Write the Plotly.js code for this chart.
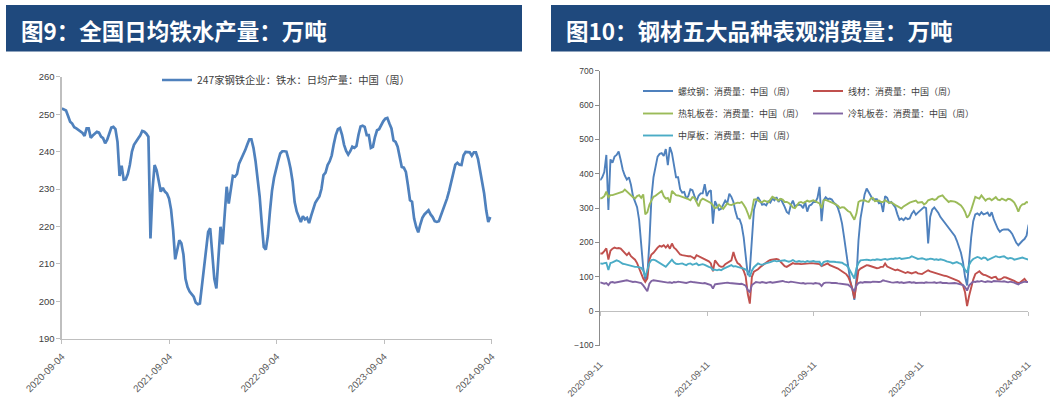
<!DOCTYPE html>
<html>
<head>
<meta charset="utf-8">
<script src="https://cdn.plot.ly/plotly-3.0.1.min.js"></script>
<style>html,body{margin:0;padding:0;background:#fff;}#chart{width:1062px;height:407px;}</style>
</head>
<body>
<div id="chart"></div>
<script>
// ---------- Data ----------
// Figure 9: 247家钢铁企业 铁水日均产量 (weekly, from 2020-09-04)
const ironStart = '2020-09-04';
const ironValues = [
251.5,251.2,251,249.5,248,247.5,246.5,246.2,245.8,245.5,
245,244.2,246.2,246.2,243.7,244.3,244.8,245.3,245.1,244,
243.6,242.2,243.2,245,246.4,246.6,246,242.6,233.5,236.2,
232.5,232.6,234,236.5,240,241.8,242.8,243.5,244.3,245.5,
245.3,244.8,244,216.8,230,236.4,235,231.9,229.3,230.3,
229.3,228.8,227.5,224.5,219,211.2,214.1,216.3,215.5,212.5,
206,203.8,202.6,202,201.2,199.6,199.2,199.4,204.3,209,
214,218.5,219.5,212,206,203.4,212,219.9,215.2,223,
230.6,226.1,229.3,233.5,233.3,234,236.8,237.9,239.1,240.4,
241.9,243.3,243.3,241,237.5,233,228,221,214.5,213.8,
217.5,224,229.5,
233,235.5,237.5,239.5,240.1,240.1,240,238,235.5,232,
226.5,224,222.5,221.2,222.7,221.9,222.3,220.9,222.8,224.5,
226.3,227.2,228,230,233.7,234.4,236.4,237.4,239,242,
244.5,246,246.3,244.5,241.8,240.2,239.2,240.1,241.3,241,
241.5,244.5,246.7,246.9,246.6,244.4,244.4,241,241.3,243.9,
245.7,246,247.1,248.1,248.8,249,247.5,246.2,243,242.6,
241.3,239,235.9,235.7,234.6,231,227,226.6,222.1,219.9,
218.4,220.5,222.3,223.2,223.7,224.3,223.2,222.5,221.4,221.2,
221.4,222.8,224.3,225.6,227.5,229.5,231.6,234.3,236.5,237,
236.5,236.4,239,239.9,239.8,239.8,238.9,239.8,239.8,238.1,
235,231.9,228.8,224.3,221.2,222.5
];
const ironName = '247家钢铁企业：铁水：日均产量：中国（周）';
const ironTicks = ['2020-09-04','2021-09-04','2022-09-04','2023-09-04','2024-09-04'];

// Figure 10: 钢材五大品种表观消费量 (weekly, from 2020-09-11)
const consStart = '2020-09-11';
const rebar = [
381,390,405,455,295,442,432,450,455,465,
440,412,395,383,390,368,335,317,303,265,
195,125,92,105,200,330,390,425,450,458,
460,452,472,425,478,460,420,390,390,355,
345,347,328,335,355,352,335,320,336,343,
343,370,335,348,352,255,320,305,295,298,
308,322,314,342,333,318,290,270,268,250,
215,155,105,120,210,295,318,332,322,310,
312,308,320,316,328,323,332,318,328,318,
304,289,284,309,322,305,309,
310,308,300,318,290,307,310,318,318,330,
362,262,323,332,326,328,325,316,311,300,
281,255,215,170,127,88,65,33,95,205,
270,312,340,357,347,333,325,326,326,314,
317,289,335,330,315,318,310,302,282,266,
270,265,272,268,270,284,292,281,287,292,
296,303,300,197,275,296,302,295,286,274,
266,258,249,242,234,226,219,205,190,170,
142,100,75,150,215,262,282,285,280,288,
282,284,287,276,288,268,252,240,231,236,
238,238,238,233,225,212,199,192,200,205,
210,220,252
];
const wireRod = [
168,168,175,183,150,176,182,185,183,184,
182,176,168,163,170,160,155,150,140,125,
108,95,85,95,150,165,170,178,185,190,
188,192,185,192,182,197,185,180,173,165,
163,163,161,160,160,157,153,163,160,158,
154,151,149,145,139,116,148,140,132,129,
130,137,141,144,148,172,152,140,136,128,
118,100,50,22,100,115,118,122,128,133,
136,142,146,149,150,151,152,150,143,136,
131,129,133,138,140,138,139,
138,137,137,139,138,139,140,139,138,139,
137,131,133,137,139,134,132,129,126,124,
120,117,112,108,100,85,65,37,75,118,
124,128,131,134,133,131,129,127,125,126,
129,129,139,130,127,124,122,119,121,119,
117,113,111,114,112,110,112,114,110,109,
108,112,116,119,116,114,111,109,108,106,
105,103,102,100,98,96,92,90,87,82,
75,55,15,45,72,92,108,112,116,110,
106,105,102,100,96,99,100,92,92,95,
99,98,96,94,90,88,85,82,84,90,
94,86,85
];
const hotRolled = [
328,330,335,348,332,338,338,340,342,343,
345,348,354,348,343,336,332,328,335,338,
330,340,282,288,310,322,333,336,340,346,
350,335,328,330,316,350,345,338,337,335,
334,332,328,326,323,332,330,318,305,322,
328,325,322,318,315,308,300,302,310,303,
298,306,314,310,309,312,314,316,315,318,
310,300,285,268,292,325,326,322,318,317,
322,320,317,325,333,330,326,322,327,325,
318,318,315,310,302,300,308,
316,318,315,318,322,319,320,323,320,318,
314,300,323,324,322,318,316,314,310,307,
300,303,302,295,291,288,275,266,284,318,
322,323,323,320,318,328,330,320,320,322,
318,318,323,318,315,317,312,309,306,303,
299,305,309,312,316,318,321,322,316,316,
318,311,315,323,326,327,324,326,333,336,
337,330,323,318,321,321,319,316,312,308,
300,289,272,280,295,312,333,330,328,337,
330,322,327,328,323,328,332,325,323,328,
325,322,327,326,322,316,305,290,305,311,
312,318,316
];
const coldRolled = [
84,82,80,82,76,84,85,83,84,86,
88,87,89,90,88,86,85,86,85,84,
82,75,65,58,80,88,90,89,87,88,
86,84,85,83,84,82,85,84,86,85,
83,84,82,84,86,85,84,82,83,82,
81,82,80,79,76,66,78,79,80,81,
80,82,83,82,81,82,81,80,79,80,
78,74,62,55,76,82,85,84,83,85,
84,82,84,85,83,84,86,85,87,88,
86,85,84,86,85,83,84,
82,81,82,80,81,82,81,80,82,81,
80,73,81,83,84,83,82,83,82,81,
80,79,80,78,77,72,66,58,75,82,
84,83,85,84,83,84,86,85,84,85,
86,90,88,86,85,84,83,84,85,83,
84,82,83,84,85,83,84,82,83,84,
83,82,84,83,82,83,84,82,83,84,
82,83,82,81,82,83,82,81,80,79,
76,70,60,75,82,86,85,87,86,88,
86,85,87,86,85,88,87,86,85,86,
87,85,84,86,85,83,80,78,82,84,
86,85,85
];
const plate = [
139,138,140,141,120,140,142,145,148,146,
141,138,137,135,134,132,130,129,129,128,
126,118,100,120,140,149,150,148,144,141,
138,133,129,136,142,150,142,138,137,139,
139,136,134,138,139,135,137,139,134,136,
137,135,131,129,127,120,121,119,121,119,
123,126,128,132,134,130,131,129,128,126,
124,121,115,100,118,128,134,139,136,135,
138,139,142,143,145,147,145,146,147,149,
148,146,144,146,149,145,144,
146,144,145,143,146,144,145,146,144,143,
144,134,143,145,146,144,145,144,143,142,
140,141,137,134,128,118,105,95,125,140,
148,149,148,150,149,148,150,149,151,150,
149,151,152,150,152,153,152,154,153,155,
152,153,155,157,156,160,158,155,152,153,
154,152,150,151,153,152,150,151,149,151,
150,148,145,144,142,139,141,143,140,138,
130,122,112,135,146,152,155,158,156,152,
156,155,149,152,155,158,160,158,157,159,
160,156,153,155,154,150,151,152,153,156,
154,152,150
];
const consNames = ['螺纹钢：消费量：中国（周）','线材：消费量：中国（周）','热轧板卷：消费量：中国（周）','冷轧板卷：消费量：中国（周）','中厚板：消费量：中国（周）'];
const consTicks = ['2020-09-11','2021-09-11','2022-09-11','2023-09-11','2024-09-11'];
const titleLeft = '图9：全国日均铁水产量：万吨';
const titleRight = '图10：钢材五大品种表观消费量：万吨';

// ---------- helpers ----------
function weekly(start, n){
  const out=[]; const t0=Date.parse(start+'T00:00:00Z');
  for(let i=0;i<n;i++){ out.push(new Date(t0+i*7*86400000).toISOString().slice(0,10)); }
  return out;
}
const W=1062, H=407;
const fx = p => p/W;
const fy = p => 1-p/H;
const CJK = '"Noto Sans CJK SC", "Noto Sans", sans-serif';
const NUM = '"Liberation Sans", Arial, sans-serif';

const ironDates = weekly(ironStart, ironValues.length);
const consDates = weekly(consStart, rebar.length);

const colors = ['#4F81BD','#C0504D','#9BBB59','#8064A2','#4BACC6'];
const consSeries = [rebar, wireRod, hotRolled, coldRolled, plate];
const consLegend = ['legend2','legend2','legend3','legend3','legend4'];

const traces = [{
  type:'scatter', mode:'lines', x: ironDates, y: ironValues, name: ironName,
  xaxis:'x', yaxis:'y', legend:'legend',
  line:{color:'#4F81BD', width:2.7}
}];
consSeries.forEach((s,i)=>{
  traces.push({
    type:'scatter', mode:'lines', x: consDates, y: s, name: consNames[i],
    xaxis: i===4 ? 'x3' : 'x2', yaxis:'y2', legend: consLegend[i],
    line:{color:colors[i], width:1.9}
  });
});

const legendBase = {orientation:'h', xanchor:'left', yanchor:'middle', bgcolor:'rgba(0,0,0,0)',
  borderwidth:0, itemwidth:30, font:{family:CJK, size:9, color:'#404040'}, entrywidth:125, entrywidthmode:'pixels'};

const layout = {
  width:W, height:H, margin:{l:0,r:0,t:0,b:0},
  paper_bgcolor:'#ffffff', plot_bgcolor:'rgba(0,0,0,0)',
  showlegend:true,
  xaxis:{type:'date', domain:[fx(61.9), fx(491.8)], range:[ironTicks[0], ironTicks[4]],
    tickmode:'array', tickvals: ironTicks, ticktext: ironTicks, tickangle:-45, ticklabelstandoff:3,
    showline:true, linecolor:'#BFBFBF', linewidth:1.5, ticks:'outside', ticklen:4, tickcolor:'#BFBFBF',
    showgrid:false, zeroline:false, tickfont:{family:NUM, size:9.8, color:'#595959'}, anchor:'y', fixedrange:true},
  yaxis:{domain:[fy(338.6), fy(76.8)], range:[190,260], tick0:190, dtick:10,
    showline:true, linecolor:'#BFBFBF', linewidth:1.5, ticks:'outside', ticklen:4, tickcolor:'#BFBFBF',
    showgrid:false, zeroline:false, tickfont:{family:NUM, size:9.5, color:'#404040'}, anchor:'x', fixedrange:true},
  xaxis2:{type:'date', domain:[fx(600.2), fx(1028)], range:[consTicks[0], consTicks[4]],
    tickmode:'array', tickvals: consTicks, ticktext: consTicks, tickangle:-45, ticklabelstandoff:11,
    showline:false, ticks:'', showgrid:false, zeroline:false,
    tickfont:{family:NUM, size:9, color:'#595959'}, anchor:'y2', fixedrange:true},
  xaxis3:{type:'date', overlaying:'x2', matches:'x2', range:[consTicks[0], consTicks[4]], anchor:'free', position: fy(311.1),
    tickmode:'array', tickvals: consTicks, showticklabels:false,
    showline:true, linecolor:'#BFBFBF', linewidth:1.2, ticks:'outside', ticklen:4, tickcolor:'#BFBFBF',
    showgrid:false, zeroline:false, fixedrange:true},
  yaxis2:{domain:[fy(345.5), fy(70.8)], range:[-100,700], tick0:-100, dtick:100,
    showline:true, linecolor:'#8C8C8C', linewidth:1, ticks:'outside', ticklen:4, tickcolor:'#8C8C8C',
    showgrid:false, zeroline:false, tickfont:{family:NUM, size:8.5, color:'#404040'}, anchor:'x2', fixedrange:true},
  legend: Object.assign({}, legendBase, {x:fx(157), y:fy(80), font:{family:CJK, size:10.3, color:'#404040'}}),
  legend2: Object.assign({}, legendBase, {x:fx(638), y:fy(91)}),
  legend3: Object.assign({}, legendBase, {x:fx(638), y:fy(113.5)}),
  legend4: Object.assign({}, legendBase, {x:fx(638), y:fy(135.5)}),
  shapes:[
    {type:'rect', xref:'paper', yref:'paper', x0:fx(6), x1:fx(522), y0:fy(51.5), y1:fy(5), fillcolor:'#1F497D', line:{width:0}, layer:'below'},
    {type:'rect', xref:'paper', yref:'paper', x0:fx(551), x1:fx(1050), y0:fy(51.5), y1:fy(5), fillcolor:'#1F497D', line:{width:0}, layer:'below'}
  ],
  annotations:[
    {text:titleLeft, xref:'paper', yref:'paper', x:fx(19), y:fy(29.5), xanchor:'left', yanchor:'middle', showarrow:false,
      font:{family:CJK, size:22.5, color:'#ffffff', weight:'bold'}},
    {text:titleRight, xref:'paper', yref:'paper', x:fx(564), y:fy(29.5), xanchor:'left', yanchor:'middle', showarrow:false,
      font:{family:CJK, size:22.5, color:'#ffffff', weight:'bold'}}
  ]
};
delete layout.legend.entrywidth;
delete layout.legend.entrywidthmode;

Plotly.newPlot('chart', traces, layout, {staticPlot:true, displayModeBar:false});
</script>
</body>
</html>
